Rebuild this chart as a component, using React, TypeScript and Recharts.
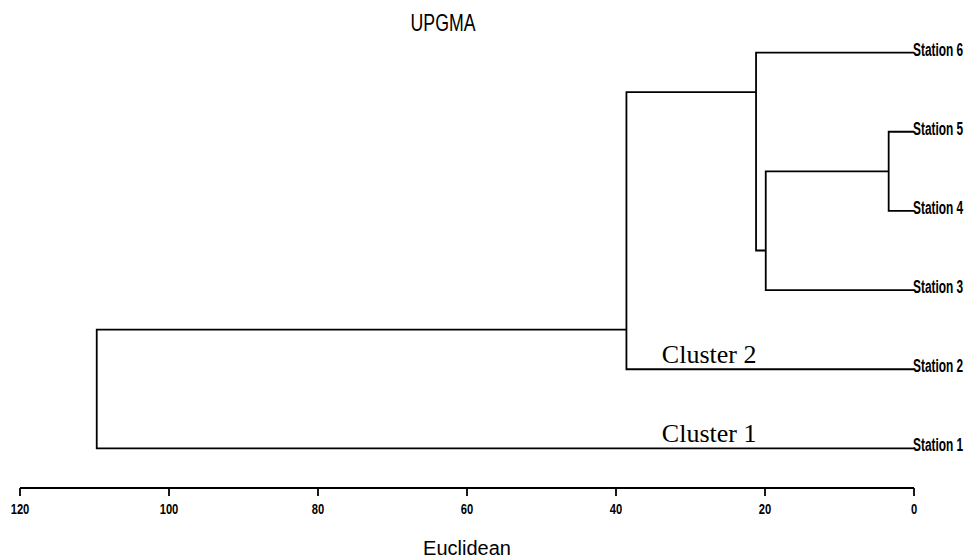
import React from 'react';
import { ScatterChart, Scatter, XAxis, YAxis, ReferenceDot, Customized } from 'recharts';

// leaves, bottom to top (row index 0..5)
const stations = ['Station 1', 'Station 2', 'Station 3', 'Station 4', 'Station 5', 'Station 6'];
const xTicks = [0, 20, 40, 60, 80, 100, 120];

// merge steps: distance, row where the node's stem leaves, the two children
const mergeHeights = [3.4, 19.9, 21.2, 38.6, 109.7];
const mergeRows = [3.5, 2.5, 4.5, 1.5, 0.75];
// child refs: 'L<n>' = leaf row n, 'M<n>' = merge n
const mergeChildren = [
  ['L3', 'L4'],
  ['M0', 'L2'],
  ['L5', 'M1'],
  ['M2', 'L1'],
  ['M3', 'L0'],
];

const clusterNames = ['Cluster 1', 'Cluster 2'];
const clusterX = [27.5, 27.5];
const clusterRow = [0.2, 1.2];

const SANS = "'Liberation Sans', Arial, sans-serif";

function nodePos(ref: string) {
  const idx = parseInt(ref.slice(1), 10);
  if (ref[0] === 'L') return { x: 0, y: idx };
  return { x: mergeHeights[idx], y: mergeRows[idx] };
}

// each merge becomes one bracket: child a -> over to height -> along -> child b
const links = mergeChildren.map(([a, b], i) => {
  const pa = nodePos(a);
  const pb = nodePos(b);
  const h = mergeHeights[i];
  return [
    { x: pa.x, y: pa.y },
    { x: h, y: pa.y },
    { x: h, y: pb.y },
    { x: pb.x, y: pb.y },
  ];
});

// the original uses a condensed face, so squeeze the text horizontally
const StationTick = (props: any) => {
  const { x, y, payload } = props;
  return (
    <text
      transform={`translate(${x - 1},${y + 3}) scale(0.66,1)`}
      textAnchor="start"
      fontFamily={SANS}
      fontWeight="bold"
      fontSize={18}
      fill="#000"
    >
      {stations[payload.value]}
    </text>
  );
};

const DistTick = (props: any) => {
  const { x, y, payload } = props;
  return (
    <text
      transform={`translate(${x},${y + 10}) scale(0.8,1)`}
      textAnchor="middle"
      fontFamily={SANS}
      fontWeight="bold"
      fontSize={14}
      fill="#000"
    >
      {payload.value}
    </text>
  );
};

const Title = () => (
  <text
    transform="translate(443,31) scale(0.77,1)"
    textAnchor="middle"
    fontFamily={SANS}
    fontSize={23}
    fill="#000"
  >
    UPGMA
  </text>
);

export default function App() {
  return (
    <div style={{ position: 'absolute', left: 0, top: 0, background: '#fff' }}>
      <ScatterChart width={968} height={558} margin={{ top: 13, right: 0, left: 20, bottom: 0 }}>
        <XAxis
          type="number"
          dataKey="x"
          domain={[0, 120]}
          ticks={xTicks}
          reversed
          allowDataOverflow
          height={70}
          axisLine={{ stroke: '#000', strokeWidth: 1.8 }}
          tickLine={{ stroke: '#000', strokeWidth: 1.8 }}
          tickSize={8}
          tickMargin={8}
          tick={DistTick}
          label={{
            value: 'Euclidean',
            position: 'insideBottom',
            offset: 3,
            fill: '#000',
            fontSize: 20,
            fontFamily: SANS,
          }}
        />
        <YAxis
          type="number"
          dataKey="y"
          orientation="right"
          width={54}
          domain={[-0.5, 5.5]}
          ticks={[0, 1, 2, 3, 4, 5]}
          axisLine={false}
          tickLine={false}
          tickSize={0}
          tickMargin={0}
          tick={StationTick}
        />
        {links.map((pts, i) => (
          <Scatter
            key={i}
            data={pts}
            line={{ stroke: '#000', strokeWidth: 1.8 }}
            lineType="joint"
            shape={() => <g />}
            isAnimationActive={false}
          />
        ))}
        {clusterNames.map((name, i) => (
          <ReferenceDot
            key={name}
            x={clusterX[i]}
            y={clusterRow[i]}
            r={0}
            stroke="none"
            label={{
              value: name,
              position: 'center',
              fill: '#000',
              fontSize: 26,
              fontFamily: "'Liberation Serif', 'Times New Roman', serif",
            }}
          />
        ))}
        <Customized component={Title} />
      </ScatterChart>
    </div>
  );
}
